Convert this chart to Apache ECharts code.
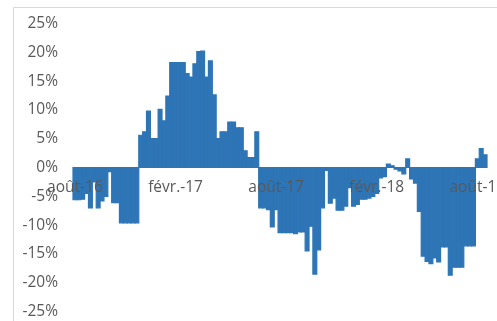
<!DOCTYPE html>
<html>
<head>
<meta charset="utf-8">
<script src="https://cdn.jsdelivr.net/npm/echarts@6/dist/echarts.min.js"></script>
<style>
  html, body { margin: 0; padding: 0; background: #fff; }
  #chart { width: 497px; height: 321px; }
</style>
</head>
<body>
<div id="chart"></div>
<script>
// weekly values (%), one per week starting 1 Aug 2016
const weeklyValues = [
  -5.6, -5.6, -5.5, -4.5, -7.0, -2.5, -7.0, -5.8, -5.0, -0.7,
  -6.1, -6.1, -9.6, -9.6, -9.6, -9.6, -9.6, 5.6, 6.2, 9.8,
  5.0, 5.0, 10.1, 8.1, 12.4, 18.2, 18.2, 18.2, 18.2, 16.3,
  15.7, 18.0, 20.1, 20.2, 15.7, 18.5, 12.6, 5.0, 6.2, 6.2,
  7.9, 7.9, 6.9, 6.9, 2.9, 1.7, 1.7, 6.2, -7.0, -7.0,
  -7.3, -10.3, -7.3, -11.3, -11.3, -11.3, -11.3, -11.5, -11.2, -11.2,
  -14.5, -10.2, -18.5, -14.3, -7.0, -0.5, -6.2, -5.3, -7.4, -7.4,
  -6.7, -3.5, -6.7, -6.4, -5.5, -5.5, -5.3, -5.0, -4.5, -1.8,
  -1.6, 0.6, 0.3, -0.3, -0.6, -1.1, 1.5, -2.0, -2.7, -7.6,
  -15.4, -16.3, -16.7, -15.7, -16.4, -13.8, -13.8, -18.7, -17.3, -17.3,
  -17.3, -13.6, -13.6, -13.6, 1.5, 3.3, 2.2
];

// x labels and the week they sit on (every 26 weeks)
const tickLabels = ['août-16', 'févr.-17', 'août-17', 'févr.-18', 'août-18'];
const tickWeeks = [0, 26, 52, 78, 104];

// y axis
const yMin = -25;
const yMax = 25;
const yStep = 5;

// week categories
const categories = [];
for (let i = 0; i < weeklyValues.length; i++) {
  const d = new Date(Date.UTC(2016, 7, 1 + i * 7));
  categories.push(d.toISOString().slice(0, 10));
}

const barColor = '#2e75b6';
const textColor = '#595959';
const fontFamily = 'Open Sans';
const gridTop = 23.5;
const gridHeight = 288;

const chart = echarts.init(document.getElementById('chart'));
chart.setOption({
  animation: false,
  graphic: [{
    type: 'rect',
    shape: { x: 13.5, y: 7.5, width: 520, height: 340 },
    style: { fill: 'none', stroke: '#d9d9d9', lineWidth: 1 },
    silent: true
  }],
  grid: {
    left: 73,
    top: gridTop,
    width: 414,
    height: gridHeight,
    outerBoundsMode: 'none'
  },
  xAxis: {
    type: 'category',
    data: categories,
    z: 5,
    axisLine: { show: false },
    axisTick: { show: false },
    splitLine: { show: false },
    axisLabel: {
      // labels stay at the grid bottom in v6, pull them up under the zero line
      margin: -(gridHeight / 2) + 12,
      color: textColor,
      fontFamily: fontFamily,
      fontSize: 15.5,
      interval: 25,
      formatter: function (value) {
        const k = tickWeeks.indexOf(categories.indexOf(value));
        return k >= 0 ? tickLabels[k] : '';
      }
    }
  },
  yAxis: {
    type: 'value',
    min: yMin,
    max: yMax,
    interval: yStep,
    axisLine: { show: false },
    axisTick: { show: false },
    splitLine: { show: false },
    axisLabel: {
      margin: 15,
      color: textColor,
      fontFamily: fontFamily,
      fontSize: 15.5,
      formatter: '{value}%'
    }
  },
  series: [{
    type: 'custom',
    data: weeklyValues.map(function (v, i) { return [i, v]; }),
    encode: { x: 0, y: 1 },
    renderItem: function (params, api) {
      const base = api.coord([api.value(0), 0]);
      const end = api.coord([api.value(0), api.value(1)]);
      const w = api.size([1, 0])[0];
      return {
        type: 'rect',
        shape: {
          x: base[0] - w / 2,
          y: Math.min(base[1], end[1]),
          width: w,
          height: Math.abs(end[1] - base[1])
        },
        // stroke in the same colour closes the seams between bars
        style: { fill: barColor, stroke: barColor, lineWidth: 1.2 }
      };
    }
  }]
});
</script>
</body>
</html>
